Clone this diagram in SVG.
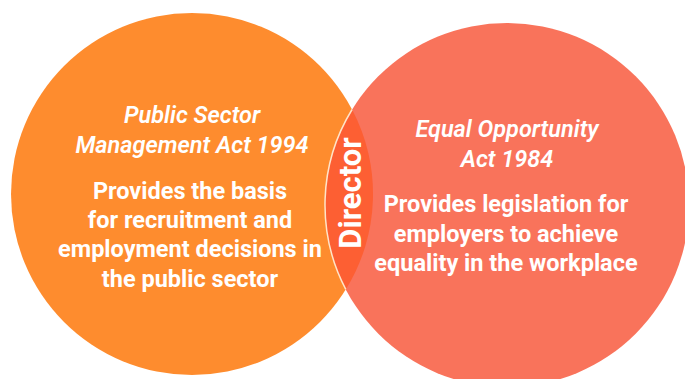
<svg xmlns="http://www.w3.org/2000/svg" width="685" height="379" viewBox="0 0 685 379">
  <style>
    .title { font-family: Roboto, "Liberation Sans", sans-serif; font-style: italic; font-weight: 600; font-size: 23.5px; fill: #ffffff; text-anchor: middle; }
    .body { font-family: Roboto, "Liberation Sans", sans-serif; font-weight: 700; font-size: 23.5px; fill: #ffffff; text-anchor: middle; }
    .core { font-family: Roboto, "Liberation Sans", sans-serif; font-weight: 700; font-size: 31px; fill: #ffffff; text-anchor: middle; }
  </style>
  <rect width="685" height="379" fill="#ffffff"/>

  <!-- Public Sector Management Act circle -->
  <g id="psma">
    <circle cx="192" cy="194" r="181" fill="#FE8C2E"/>
    <text class="title" x="192" y="123">Public Sector</text>
    <text class="title" x="192" y="153">Management Act 1994</text>
    <text class="body" x="190" y="199">Provides the basis</text>
    <text class="body" x="190" y="228">for recruitment and</text>
    <text class="body" x="190" y="257">employment decisions in</text>
    <text class="body" x="190" y="287">the public sector</text>
  </g>

  <!-- Equal Opportunity Act circle -->
  <g id="eoa">
    <circle cx="507" cy="205" r="182" fill="#F9735B"/>
    <text class="title" x="507" y="137">Equal Opportunity</text>
    <text class="title" x="507" y="167">Act 1984</text>
    <text class="body" x="506" y="212">Provides legislation for</text>
    <text class="body" x="506" y="242">employers to achieve</text>
    <text class="body" x="506" y="271">equality in the workplace</text>
  </g>

  <!-- Overlap: Director -->
  <g id="director">
    <path d="M352.07 109.5 A181 181 0 0 1 345.79 289.46 A182 182 0 0 1 352.07 109.5 Z" fill="#FD5F33"/>
    <path d="M345.79 289.46 A182 182 0 0 1 352.07 109.5" fill="none" stroke="#FFE4C8" stroke-width="1.5"/>
    <text class="core" transform="translate(361 193) rotate(-90)" x="0" y="0">Director</text>
  </g>
</svg>
